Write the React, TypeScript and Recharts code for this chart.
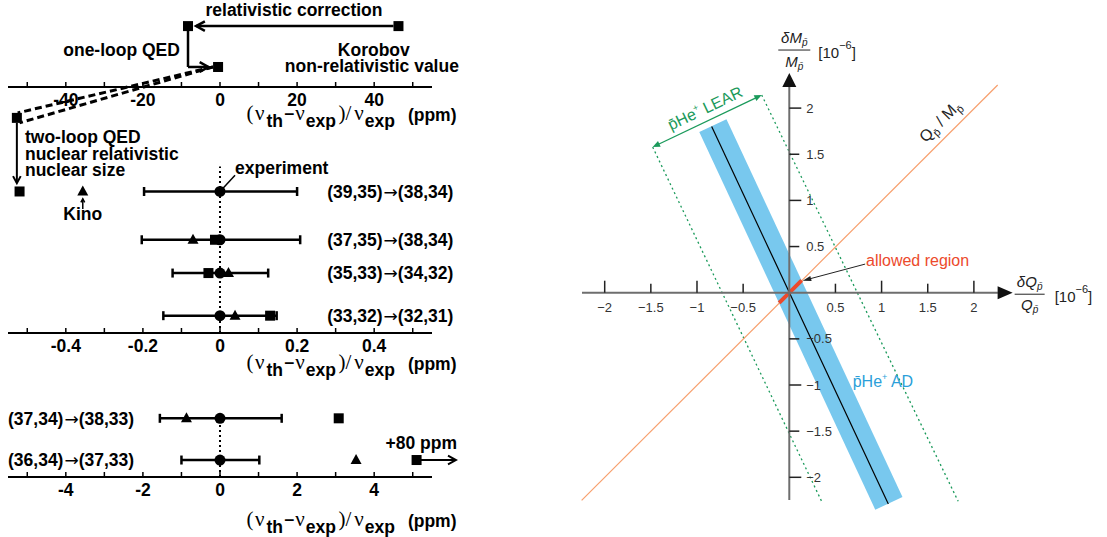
import React from "react";
import { ScatterChart, Scatter, XAxis, YAxis, ErrorBar, ReferenceLine } from "recharts";

const SANS = "'Liberation Sans', Arial, sans-serif";
const SERIF = "'Liberation Serif', 'Times New Roman', serif";
const BOLD = { fontFamily: SANS, fontWeight: 700, fontSize: 17.5, fill: "#000" };
const SUB = { fontFamily: SANS, fontWeight: 700, fontSize: 17.5 };
const TICK13 = { fontFamily: SANS, fontSize: 13, fill: "#333" };
const NOTE16 = { fontFamily: SANS, fontSize: 16 };
const FRAC = { fontFamily: SANS, fontSize: 15, fontStyle: "italic" as const, fill: "#222" };

const BAND = "#78c8ee";
const AD_BLUE = "#2b9fd9";
const GREEN = "#1b9a5b";
const ORANGE = "#f7a06e";
const RED = "#ec4a2c";
const AXIS = "#6e6e6e";

// ---------- left, top scale (ppm): Korobov theory for (39,35)->(38,34), step by step
const topTicks = [-50, -40, -30, -20, -10, 0, 10, 20, 30, 40, 50];
const topTickLabels = [-40, -20, 0, 20, 40];
const korobovNonRel = 46.3;
const withRelativistic = -8.3;
const withOneLoop = -0.5;
const topStepLevel = [7.0, 2.3];

// ---------- left, middle scale (ppm)
const midTicks = [-0.5, -0.4, -0.3, -0.2, -0.1, 0, 0.1, 0.2, 0.3, 0.4, 0.5];
const midTickLabels = [-0.4, -0.2, 0, 0.2, 0.4];
const midTransitions = ["(39,35)→(38,34)", "(37,35)→(38,34)", "(35,33)→(34,32)", "(33,32)→(32,31)"];
const midExpErr = [[0.197, 0.2], [0.203, 0.208], [0.123, 0.125], [0.147, 0.147]];
const midKorobov = [-0.52, -0.013, -0.03, 0.13];
const midKino = [-0.356, -0.07, 0.022, 0.039];
const midRowLevel = [4.25, 2.8, 1.8, 0.52];
const twoLoopLevel = 6.46;

// ---------- left, bottom scale (ppm)
const lowTicks = [-5, -4, -3, -2, -1, 0, 1, 2, 3, 4, 5];
const lowTickLabels = [-4, -2, 0, 2, 4];
const lowTransitions = ["(37,34)→(38,33)", "(36,34)→(37,33)"];
const lowExpErr = [[1.56, 1.6], [1.0, 1.02]];
const lowKorobov = [3.08, 5.1];
const lowKino = [-0.87, 3.53];
const lowRowLevel = [6.05, 1.75];

// ---------- right: dQ/Q vs dM/M  [1e-6]
const qTicks = [-2, -1.5, -1, -0.5, 0.5, 1, 1.5, 2];
const mTicks = [2, 1.5, 1, 0.5, -0.5, -1, -1.5, -2];
const adBand = [{ x: -0.828, y: 1.811 }, { x: 1.079, y: -2.282 }];
const adCentral = [{ x: -0.841, y: 1.8 }, { x: 1.073, y: -2.289 }];
const learLow = [{ x: -1.48, y: 1.578 }, { x: 0.35, y: -2.26 }];
const learHigh = [{ x: -0.299, y: 2.142 }, { x: 1.83, y: -2.26 }];
const chargeToMass = [{ x: -2.25, y: -2.25 }, { x: 2.258, y: 2.25 }];
const allowedRegion = [{ x: -0.11, y: -0.11 }, { x: 0.134, y: 0.134 }];

type Pt = { x: number; y: number };

function arrowShape(o: {
  color: string; width: number; head?: "open" | "filled" | "none"; size?: number;
  both?: boolean; dash?: string; spread?: number;
}) {
  const { color, width, head = "none", size = 10, both = false, dash, spread = 0.5 } = o;
  return (p: any) => {
    const x1 = Number(p.x1), y1 = Number(p.y1), x2 = Number(p.x2), y2 = Number(p.y2);
    const ang = Math.atan2(y2 - y1, x2 - x1);
    const mk = (tx: number, ty: number, a: number, k: string) => {
      const lx = tx - size * Math.cos(a - spread), ly = ty - size * Math.sin(a - spread);
      const rx = tx - size * Math.cos(a + spread), ry = ty - size * Math.sin(a + spread);
      const pts = `${lx},${ly} ${tx},${ty} ${rx},${ry}`;
      return head === "filled"
        ? <polygon key={k} points={pts} fill={color} />
        : <polyline key={k} points={pts} fill="none" stroke={color} strokeWidth={width} />;
    };
    let sx1 = x1, sy1 = y1, sx2 = x2, sy2 = y2;
    if (head === "filled") {
      const back = size * Math.cos(spread) * 0.8;
      sx2 = x2 - back * Math.cos(ang);
      sy2 = y2 - back * Math.sin(ang);
      if (both) {
        sx1 = x1 + back * Math.cos(ang);
        sy1 = y1 + back * Math.sin(ang);
      }
    }
    return (
      <g>
        <line x1={sx1} y1={sy1} x2={sx2} y2={sy2} stroke={color} strokeWidth={width} strokeDasharray={dash} />
        {head !== "none" && mk(x2, y2, ang, "e")}
        {head !== "none" && both && mk(x1, y1, ang + Math.PI, "s")}
      </g>
    );
  };
}

const seg = (key: string, a: Pt, b: Pt, shape: any) => (
  <ReferenceLine key={key} segment={[a, b]} ifOverflow="visible" shape={shape} />
);

const square = (p: any) => <rect x={p.cx - 5} y={p.cy - 5} width={10} height={10} fill="#000" />;
const dot = (p: any) => <circle cx={p.cx} cy={p.cy} r={5.5} fill="#000" />;
const triangle = (p: any) => (
  <polygon points={`${p.cx},${p.cy - 6} ${p.cx + 5.5},${p.cy + 4} ${p.cx - 5.5},${p.cy + 4}`} fill="#000" />
);

const note = (anchor: "start" | "middle" | "end") => (p: any) => (
  <text x={p.cx} y={p.cy} textAnchor={anchor} style={BOLD}>{p.payload.text}</text>
);

const transitionLabel = (p: any) => {
  const [a, b] = String(p.payload.text).split("→");
  return (
    <text x={p.cx} y={p.cy} dy="0.36em" style={BOLD}>
      {a}
      <tspan fontFamily="'DejaVu Sans', sans-serif" fontWeight={400} fontSize={17} dx={1}>→</tspan>
      {b}
    </text>
  );
};

const ppmTick = (labels: number[]) => (p: any) => {
  const v = Number(p.payload.value);
  const show = labels.some((l) => Math.abs(l - v) < 1e-9);
  return (
    <g>
      <line x1={p.x} y1={p.y} x2={p.x} y2={p.y - 5} stroke="#000" strokeWidth={1.5} />
      {show && (
        <text x={p.x} y={p.y + 19} textAnchor="middle" style={BOLD}>{String(v)}</text>
      )}
    </g>
  );
};

const ppmTitle = (base: number) => (props: any) => {
  const vb = props.viewBox || { x: 8, y: 0 };
  const x = vb.x + 238.5;
  const y = vb.y + base;
  return (
    <text x={x} y={y} style={{ fontFamily: SERIF, fontSize: 21, fill: "#000" }}>
      <tspan>(</tspan>
      <tspan dx={1.5}>ν</tspan>
      <tspan dy={7} dx={2} style={SUB}>th</tspan>
      <tspan dy={-7} dx={1} style={BOLD}>−</tspan>
      <tspan dx={1}>ν</tspan>
      <tspan dy={7} dx={1} style={SUB}>exp</tspan>
      <tspan dy={-7} dx={2.5}>)/</tspan>
      <tspan dx={3}>ν</tspan>
      <tspan dy={7} dx={1} style={SUB}>exp</tspan>
      <tspan dy={-6} dx={13} style={BOLD}>(ppm)</tspan>
    </text>
  );
};

function ppmAxis(ticks: number[], labels: number[], domain: [number, number], height: number, titleBase: number) {
  return (
    <XAxis
      type="number"
      dataKey="x"
      domain={domain}
      ticks={ticks}
      interval={0}
      tick={ppmTick(labels)}
      tickLine={false}
      tickSize={0}
      tickMargin={0}
      height={height}
      axisLine={{ stroke: "#000", strokeWidth: 2 }}
      label={ppmTitle(titleBase)}
    />
  );
}

function TopPanel() {
  const lv = topStepLevel;
  const squares = [
    { x: korobovNonRel, y: lv[0] },
    { x: withRelativistic, y: lv[0] },
    { x: withOneLoop, y: lv[1] },
  ];
  const midNotes = [
    { text: "relativistic correction", x: 19.2, y: 8.16 },
    { text: "Korobov", x: 39.9, y: 3.62 },
    { text: "non-relativistic value", x: 39.4, y: 1.75 },
  ];
  const endNotes = [{ text: "one-loop QED", x: -10.4, y: 3.62 }];
  const thick = arrowShape({ color: "#000", width: 2.5 });
  const thickArrow = arrowShape({ color: "#000", width: 2.5, head: "open", size: 10 });
  return (
    <ScatterChart width={470} height={130} margin={{ top: 0, right: 38, bottom: 0, left: 8 }}>
      {ppmAxis(topTicks, topTickLabels, [-55, 55], 43, 33)}
      <YAxis type="number" dataKey="y" domain={[0, 10]} hide />
      {seg("rel", { x: korobovNonRel - 1.3, y: lv[0] }, { x: withRelativistic + 2.1, y: lv[0] }, thickArrow)}
      {seg("ql1", { x: withRelativistic, y: lv[0] }, { x: withRelativistic, y: lv[1] }, thick)}
      {seg("ql2", { x: withRelativistic, y: lv[1] }, { x: withOneLoop - 2.5, y: lv[1] }, thickArrow)}
      <Scatter data={squares} shape={square} isAnimationActive={false} />
      <Scatter data={midNotes} shape={note("middle")} isAnimationActive={false} />
      <Scatter data={endNotes} shape={note("end")} isAnimationActive={false} />
    </ScatterChart>
  );
}

function MiddlePanel() {
  const exp = midRowLevel.map((y, i) => ({ x: 0, y, err: midExpErr[i] }));
  const kor = midRowLevel.map((y, i) => ({ x: midKorobov[i], y }));
  const kino = midRowLevel.map((y, i) => ({ x: midKino[i], y }));
  const labels = midRowLevel.map((y, i) => ({ x: 0.278, y, text: midTransitions[i] }));
  const final = midKorobov[0];
  const oneLoopHere = withOneLoop / 100;
  const startNotes = [
    { text: "two-loop QED", x: -0.506, y: 5.71 },
    { text: "nuclear relativistic", x: -0.506, y: 5.21 },
    { text: "nuclear size", x: -0.506, y: 4.72 },
    { text: "experiment", x: 0.039, y: 4.77 },
  ];
  const dashed = arrowShape({ color: "#000", width: 3, dash: "7 4" });
  return (
    <ScatterChart width={470} height={380} margin={{ top: 0, right: 38, bottom: 0, left: 8 }}>
      {ppmAxis(midTicks, midTickLabels, [-0.55, 0.55], 47, 36)}
      <YAxis type="number" dataKey="y" domain={[0, 10]} hide />
      {seg("zero", { x: 0, y: 0 }, { x: 0, y: 5.0 }, arrowShape({ color: "#000", width: 2, dash: "2 3" }))}
      {seg("d1", { x: oneLoopHere - 0.013, y: 7.99 }, { x: final - 0.005, y: 6.61 }, dashed)}
      {seg("d2", { x: oneLoopHere - 0.013, y: 7.99 }, { x: final, y: 6.31 }, dashed)}
      {seg("two", { x: final - 0.007, y: 6.31 }, { x: final - 0.007, y: 4.5 }, arrowShape({ color: "#000", width: 2, head: "open", size: 8 }))}
      {seg("kinoArrow", { x: midKino[0], y: 3.72 }, { x: midKino[0], y: 4.03 }, arrowShape({ color: "#000", width: 1.5, head: "open", size: 4 }))}
      {seg("expLeader", { x: 0.0, y: midRowLevel[0] }, { x: 0.039, y: 4.74 }, arrowShape({ color: "#000", width: 1.5 }))}
      <Scatter data={exp} shape={dot} isAnimationActive={false}>
        <ErrorBar dataKey="err" direction="x" width={4.5} strokeWidth={2.5} stroke="#000" isAnimationActive={false} />
      </Scatter>
      <Scatter data={kor} shape={square} isAnimationActive={false} />
      <Scatter data={kino} shape={triangle} isAnimationActive={false} />
      <Scatter data={[{ x: final - 0.007, y: twoLoopLevel }]} shape={square} isAnimationActive={false} />
      <Scatter data={labels} shape={transitionLabel} isAnimationActive={false} />
      <Scatter data={startNotes} shape={note("start")} isAnimationActive={false} />
      <Scatter data={[{ text: "Kino", x: midKino[0], y: 3.39 }]} shape={note("middle")} isAnimationActive={false} />
    </ScatterChart>
  );
}

function BottomPanel() {
  const exp = lowRowLevel.map((y, i) => ({ x: 0, y, err: lowExpErr[i] }));
  const kor = lowRowLevel.map((y, i) => ({ x: lowKorobov[i], y }));
  const kino = lowRowLevel.map((y, i) => ({ x: lowKino[i], y }));
  const labels = lowRowLevel.map((y, i) => ({ x: -5.5, y, text: lowTransitions[i] }));
  const off = lowKorobov[1];
  return (
    <ScatterChart width={470} height={157} margin={{ top: 0, right: 38, bottom: 0, left: 8 }}>
      {ppmAxis(lowTicks, lowTickLabels, [-5.5, 5.5], 60, 49)}
      <YAxis type="number" dataKey="y" domain={[0, 10]} hide />
      {seg("zero", { x: 0, y: 0 }, { x: 0, y: lowRowLevel[0] }, arrowShape({ color: "#000", width: 2, dash: "2 3" }))}
      {seg("plus80", { x: off + 0.1, y: lowRowLevel[1] }, { x: off + 1.02, y: lowRowLevel[1] }, arrowShape({ color: "#000", width: 2, head: "open", size: 9 }))}
      <Scatter data={exp} shape={dot} isAnimationActive={false}>
        <ErrorBar dataKey="err" direction="x" width={4.5} strokeWidth={2.5} stroke="#000" isAnimationActive={false} />
      </Scatter>
      <Scatter data={kor} shape={square} isAnimationActive={false} />
      <Scatter data={kino} shape={triangle} isAnimationActive={false} />
      <Scatter data={labels} shape={transitionLabel} isAnimationActive={false} />
      <Scatter data={[{ text: "+80 ppm", x: 5.22, y: 2.9 }]} shape={note("middle")} isAnimationActive={false} />
    </ScatterChart>
  );
}

const fmt = (v: number) => (v < 0 ? "\u2212" + String(-v) : String(v));

const qTickShape = (p: any) => {
  const v = p.payload.x;
  const len = Number.isInteger(v) ? 12 : 9;
  return (
    <g>
      <line x1={p.cx} y1={p.cy} x2={p.cx} y2={p.cy - len} stroke="#222" strokeWidth={1.5} />
      <text x={p.cx} y={p.cy + 19} textAnchor="middle" style={TICK13}>{fmt(v)}</text>
    </g>
  );
};

const mTickShape = (p: any) => {
  const v = p.payload.y;
  const len = Number.isInteger(v) ? 12 : 10;
  return (
    <g>
      <line x1={p.cx} y1={p.cy} x2={p.cx + len} y2={p.cy} stroke="#222" strokeWidth={1.5} />
      <text x={p.cx + 17} y={p.cy} dy="0.35em" style={TICK13}>{fmt(v)}</text>
    </g>
  );
};

const pbar = "p\u0304";

const xArrowShape = (p: any) => {
  const { cx, cy } = p;
  return (
    <g>
      <polygon points={`${cx},${cy} ${cx - 15},${cy - 6.5} ${cx - 15},${cy + 6.5}`} fill="#111" />
      <text x={cx + 17} y={cy - 6} textAnchor="middle" style={FRAC}>
        δQ<tspan fontSize={10} dy={3}>{pbar}</tspan>
      </text>
      <line x1={cx + 2} y1={cy + 1.5} x2={cx + 32} y2={cy + 1.5} stroke="#222" strokeWidth={1} />
      <text x={cx + 17} y={cy + 17} textAnchor="middle" style={FRAC}>
        Q<tspan fontSize={10} dy={3}>{pbar}</tspan>
      </text>
      <text x={cx + 42} y={cy + 9} style={{ fontFamily: SANS, fontSize: 15, fill: "#222" }}>
        [10<tspan fontSize={11} dy={-9}>−6</tspan><tspan dy={9}>]</tspan>
      </text>
    </g>
  );
};

const yArrowShape = (p: any) => {
  const { cx, cy } = p;
  return (
    <g>
      <polygon points={`${cx},${cy} ${cx + 7},${cy + 14} ${cx - 7},${cy + 14}`} fill="#111" />
      <text x={cx + 5} y={cy - 30} textAnchor="middle" style={FRAC}>
        δM<tspan fontSize={10} dy={3}>{pbar}</tspan>
      </text>
      <line x1={cx - 11} y1={cy - 23} x2={cx + 21} y2={cy - 23} stroke="#222" strokeWidth={1} />
      <text x={cx + 5} y={cy - 6} textAnchor="middle" style={FRAC}>
        M<tspan fontSize={10} dy={3}>{pbar}</tspan>
      </text>
      <text x={cx + 29} y={cy - 15} style={{ fontFamily: SANS, fontSize: 15, fill: "#222" }}>
        [10<tspan fontSize={11} dy={-9}>−6</tspan><tspan dy={9}>]</tspan>
      </text>
    </g>
  );
};

const learLabel = (p: any) => (
  <text x={p.cx} y={p.cy} dy="0.35em" textAnchor="middle" transform={`rotate(-25.5 ${p.cx} ${p.cy})`} style={{ ...NOTE16, fill: GREEN }}>
    {pbar}He<tspan fontSize={9} dy={-7}>+</tspan><tspan dy={7}> LEAR</tspan>
  </text>
);

const adLabel = (p: any) => (
  <text x={p.cx} y={p.cy} style={{ ...NOTE16, fill: AD_BLUE }}>
    {pbar}He<tspan fontSize={9} dy={-7}>+</tspan><tspan dy={7}> AD</tspan>
  </text>
);

const qmLabel = (p: any) => (
  <text x={p.cx} y={p.cy} dy="0.35em" textAnchor="middle" transform={`rotate(-45 ${p.cx} ${p.cy})`} style={{ ...NOTE16, fill: "#222" }}>
    Q<tspan fontSize={11} dy={4}>{pbar}</tspan><tspan dy={-4}> / M</tspan><tspan fontSize={11} dy={4}>{pbar}</tspan>
  </text>
);

const allowedLabel = (p: any) => (
  <text x={p.cx} y={p.cy} style={{ ...NOTE16, fill: RED }}>allowed region</text>
);

function RightPanel() {
  const qPts = qTicks.map((x) => ({ x, y: 0 }));
  const mPts = mTicks.map((y) => ({ x: 0, y }));
  return (
    <ScatterChart width={567} height={537} margin={{ top: 43.5, right: 3.9, bottom: 13.55, left: 18.55 }}>
      <XAxis type="number" dataKey="x" domain={[-2.5, 3.4]} hide />
      <YAxis type="number" dataKey="y" domain={[-2.5, 2.7]} hide />
      {seg("band", adBand[0], adBand[1], arrowShape({ color: BAND, width: 30 }))}
      {seg("adc", adCentral[0], adCentral[1], arrowShape({ color: "#000", width: 1.2 }))}
      {seg("learL", learLow[0], learLow[1], arrowShape({ color: GREEN, width: 1.3, dash: "2 3" }))}
      {seg("learH", learHigh[0], learHigh[1], arrowShape({ color: GREEN, width: 1.3, dash: "2 3" }))}
      {seg("learArrow", learLow[0], learHigh[0], arrowShape({ color: GREEN, width: 1.3, head: "filled", size: 8, both: true, spread: 0.4 }))}
      {seg("qm", chargeToMass[0], chargeToMass[1], arrowShape({ color: ORANGE, width: 1.2 }))}
      {seg("allowed", allowedRegion[0], allowedRegion[1], arrowShape({ color: RED, width: 4 }))}
      {seg("xAxis", { x: -2.246, y: 0 }, { x: 2.26, y: 0 }, arrowShape({ color: AXIS, width: 2 }))}
      {seg("yAxis", { x: 0, y: -2.246 }, { x: 0, y: 2.23 }, arrowShape({ color: AXIS, width: 2 }))}
      {seg("ptr", { x: 0.822, y: 0.31 }, { x: 0.145, y: 0.13 }, arrowShape({ color: "#222", width: 1, head: "filled", size: 9, spread: 0.3 }))}
      <Scatter data={qPts} shape={qTickShape} isAnimationActive={false} />
      <Scatter data={mPts} shape={mTickShape} isAnimationActive={false} />
      <Scatter data={[{ x: 2.42, y: 0 }]} shape={xArrowShape} isAnimationActive={false} />
      <Scatter data={[{ x: 0, y: 2.38 }]} shape={yArrowShape} isAnimationActive={false} />
      <Scatter data={[{ x: -0.913, y: 2.0 }]} shape={learLabel} isAnimationActive={false} />
      <Scatter data={[{ x: 0.687, y: -1.018 }]} shape={adLabel} isAnimationActive={false} />
      <Scatter data={[{ x: 1.632, y: 1.86 }]} shape={qmLabel} isAnimationActive={false} />
      <Scatter data={[{ x: 0.831, y: 0.285 }]} shape={allowedLabel} isAnimationActive={false} />
    </ScatterChart>
  );
}

export default function App() {
  return (
    <div style={{ position: "absolute", left: 0, top: 0, width: 1107, height: 537, background: "#fff", overflow: "hidden" }}>
      <div style={{ position: "absolute", left: 0, top: 0 }}>
        <TopPanel />
      </div>
      <div style={{ position: "absolute", left: 0, top: 0 }}>
        <MiddlePanel />
      </div>
      <div style={{ position: "absolute", left: 0, top: 380 }}>
        <BottomPanel />
      </div>
      <div style={{ position: "absolute", left: 540, top: 0 }}>
        <RightPanel />
      </div>
    </div>
  );
}
